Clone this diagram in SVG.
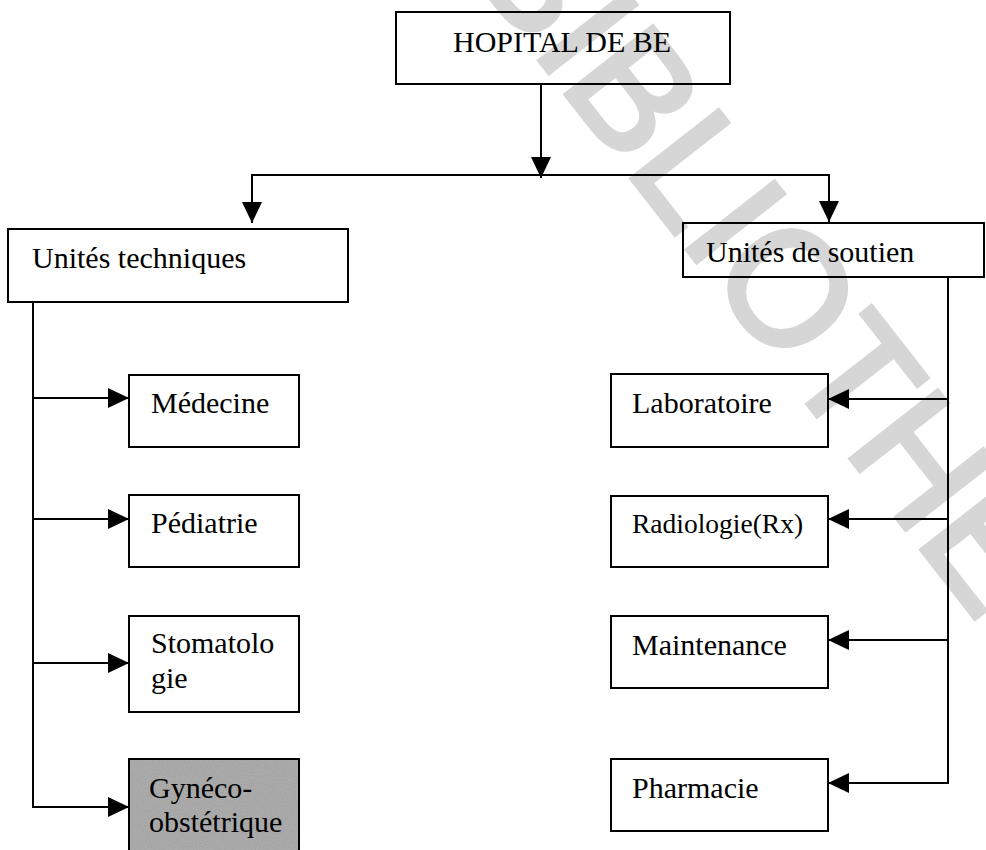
<svg xmlns="http://www.w3.org/2000/svg" width="986" height="850" viewBox="0 0 986 850">
<style>
.box{fill:none;stroke:#000;stroke-width:2}
.t{font-family:"Liberation Serif","Times New Roman",serif;font-size:30px;fill:#000}
.c{fill:none;stroke:#000;stroke-width:2}
.wm{font-family:"Liberation Sans",Arial,sans-serif;font-size:160px;fill:#d6d6d6;stroke:#d6d6d6;stroke-width:5}
</style>
<defs>
<marker id="ah" markerUnits="userSpaceOnUse" markerWidth="21" markerHeight="20" refX="21" refY="10" orient="auto">
<path d="M0,0 L21,10 L0,20 Z" fill="#000"/>
</marker>
<filter id="grain" x="0" y="0" width="1" height="1">
<feTurbulence type="fractalNoise" baseFrequency="0.9" numOctaves="2" seed="3" result="n"/>
<feColorMatrix in="n" type="matrix" values="0 0 0 0 0.35  0 0 0 0 0.35  0 0 0 0 0.35  0 0 0 2.2 -0.9" result="d"/>
<feComposite in="d" in2="SourceGraphic" operator="in"/>
</filter>
</defs>
<rect width="986" height="850" fill="#fff"/>
<g id="watermark">
<text class="wm" transform="translate(465,-35) rotate(52)">BIBLIOTHEQUE</text>
</g>
<g id="connectors">
<line class="c" x1="541" y1="84" x2="541" y2="178" marker-end="url(#ah)"/>
<polyline class="c" points="252,223 252,175 829,175 829,222"/>
<line class="c" x1="252" y1="200" x2="252" y2="223" marker-end="url(#ah)"/>
<line class="c" x1="829" y1="200" x2="829" y2="222" marker-end="url(#ah)"/>
<line class="c" x1="33" y1="302" x2="33" y2="807"/>
<line class="c" x1="32" y1="398" x2="129" y2="398" marker-end="url(#ah)"/>
<line class="c" x1="32" y1="519" x2="129" y2="519" marker-end="url(#ah)"/>
<line class="c" x1="32" y1="663" x2="129" y2="663" marker-end="url(#ah)"/>
<line class="c" x1="32" y1="807" x2="129" y2="807" marker-end="url(#ah)"/>
<line class="c" x1="948" y1="277" x2="948" y2="783"/>
<line class="c" x1="949" y1="399" x2="828" y2="399" marker-end="url(#ah)"/>
<line class="c" x1="949" y1="519" x2="828" y2="519" marker-end="url(#ah)"/>
<line class="c" x1="949" y1="640" x2="828" y2="640" marker-end="url(#ah)"/>
<line class="c" x1="949" y1="783" x2="828" y2="783" marker-end="url(#ah)"/>
</g>
<g id="hopital">
<rect class="box" x="396" y="12" width="334" height="72"/>
<text class="t" x="453" y="52">HOPITAL DE BE</text>
</g>
<g id="unites-techniques">
<rect class="box" x="8" y="229" width="340" height="73"/>
<text class="t" x="32" y="268">Unités techniques</text>
</g>
<g id="unites-soutien">
<rect class="box" x="683" y="223" width="301" height="54"/>
<text class="t" x="706" y="262">Unités de soutien</text>
</g>
<g id="medecine">
<rect class="box" x="129" y="375" width="170" height="72"/>
<text class="t" x="151" y="413">Médecine</text>
</g>
<g id="pediatrie">
<rect class="box" x="129" y="495" width="170" height="72"/>
<text class="t" x="151" y="533">Pédiatrie</text>
</g>
<g id="stomatologie">
<rect class="box" x="129" y="616" width="170" height="96"/>
<text class="t" x="151" y="653">Stomatolo</text>
<text class="t" x="151" y="688">gie</text>
</g>
<g id="gyneco">
<rect x="129" y="759" width="170" height="100" fill="#ababab"/>
<rect x="129" y="759" width="170" height="100" fill="#ababab" filter="url(#grain)"/>
<rect x="129" y="759" width="170" height="100" fill="none" stroke="#000" stroke-width="2"/>
<text class="t" x="149" y="798">Gynéco-</text>
<text class="t" x="149" y="832">obstétrique</text>
</g>
<g id="laboratoire">
<rect class="box" x="611" y="374" width="217" height="73"/>
<text class="t" x="632" y="413">Laboratoire</text>
</g>
<g id="radiologie">
<rect class="box" x="611" y="496" width="217" height="71"/>
<text class="t" x="632" y="533" style="font-size:27.5px">Radiologie(Rx)</text>
</g>
<g id="maintenance">
<rect class="box" x="611" y="616" width="217" height="72"/>
<text class="t" x="632" y="655">Maintenance</text>
</g>
<g id="pharmacie">
<rect class="box" x="611" y="759" width="217" height="72"/>
<text class="t" x="632" y="798">Pharmacie</text>
</g>
</svg>
